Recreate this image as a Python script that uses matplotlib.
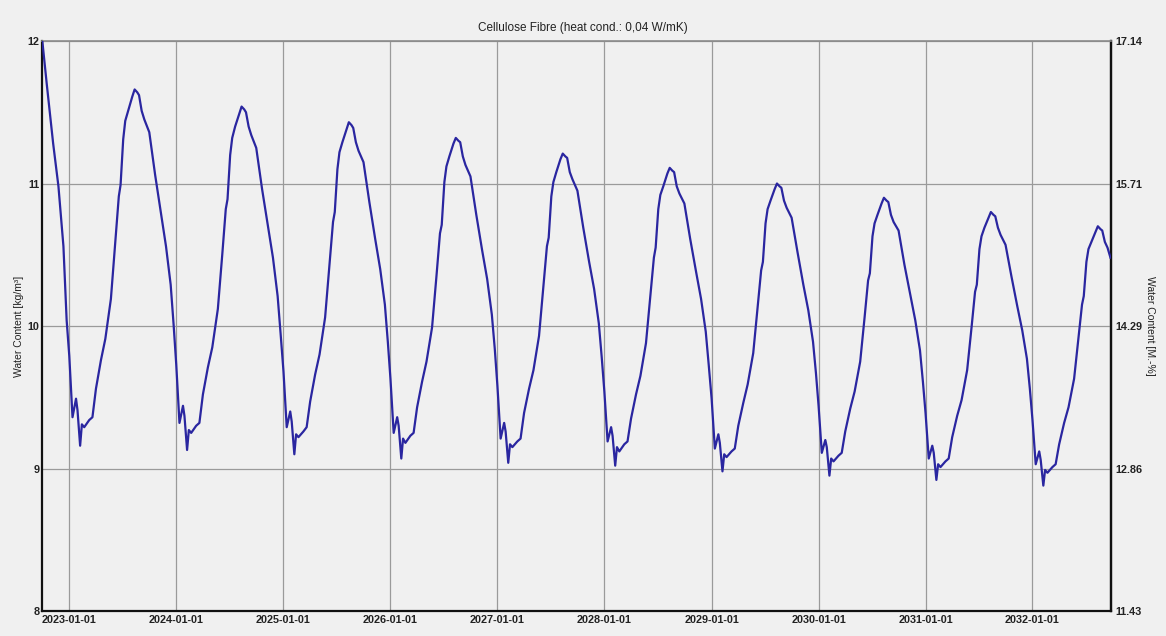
import numpy as np
import matplotlib.pyplot as plt
import matplotlib.dates as mdates
from matplotlib.ticker import FixedLocator, FormatStrFormatter

plt.rcParams['font.family'] = ['Liberation Sans', 'DejaVu Sans']

# ---------------------------------------------------------------------------
# Simulated water content of the cellulose fibre layer [kg/m3]
# ---------------------------------------------------------------------------

# run-in period: drying out of the initial moisture (autumn 2022)
START_DATES = ['2022-10-01', '2022-10-16', '2022-11-07', '2022-11-25',
               '2022-12-12', '2022-12-23']
START_VALUES = [12.00, 11.70, 11.28, 10.98, 10.56, 10.04]

# output days (days after 1 January) used for each year below
DAY_OFFSETS = [0, 11, 23, 28, 37, 43, 51, 68, 79, 91, 108, 123, 142, 157,
               169, 175, 184, 191, 201, 215, 223, 232, 238, 247, 256, 273,
               293, 313, 330, 346, 356]
DAY_OFFSETS_2032 = [0, 11, 23, 28, 37, 43, 51, 68, 79, 91, 108, 123, 142,
                    157, 169, 175, 184, 191, 201, 215, 223, 232, 238, 247,
                    256, 266]

YEARS = list(range(2023, 2033))

WC_2023 = [9.79, 9.36, 9.49, 9.41, 9.16, 9.31, 9.29, 9.34, 9.36, 9.56, 9.76,
           9.91, 10.19, 10.59, 10.91, 10.99, 11.31, 11.44, 11.51, 11.61,
           11.66, 11.64, 11.62, 11.51, 11.45, 11.36, 11.06, 10.79, 10.56,
           10.29, 10.01]
WC_2024 = [9.73, 9.32, 9.44, 9.37, 9.13, 9.27, 9.25, 9.30, 9.32, 9.52, 9.71,
           9.85, 10.12, 10.50, 10.82, 10.89, 11.20, 11.32, 11.40, 11.49,
           11.54, 11.52, 11.50, 11.40, 11.34, 11.25, 10.96, 10.70, 10.48,
           10.21, 9.95]
WC_2025 = [9.68, 9.29, 9.40, 9.33, 9.10, 9.24, 9.22, 9.26, 9.29, 9.47, 9.66,
           9.80, 10.06, 10.43, 10.73, 10.80, 11.10, 11.22, 11.29, 11.38,
           11.43, 11.41, 11.39, 11.29, 11.23, 11.15, 10.87, 10.61, 10.40,
           10.15, 9.89]
WC_2026 = [9.63, 9.25, 9.36, 9.30, 9.07, 9.21, 9.18, 9.23, 9.25, 9.43, 9.61,
           9.75, 9.99, 10.35, 10.65, 10.71, 11.01, 11.12, 11.19, 11.28,
           11.32, 11.30, 11.29, 11.19, 11.13, 11.05, 10.78, 10.53, 10.33,
           10.08, 9.84]
WC_2027 = [9.58, 9.21, 9.32, 9.26, 9.04, 9.17, 9.15, 9.19, 9.21, 9.39, 9.56,
           9.69, 9.93, 10.28, 10.56, 10.62, 10.91, 11.01, 11.08, 11.17,
           11.21, 11.19, 11.18, 11.08, 11.03, 10.95, 10.69, 10.45, 10.26,
           10.02, 9.78]
WC_2028 = [9.54, 9.19, 9.29, 9.23, 9.02, 9.15, 9.12, 9.17, 9.19, 9.35, 9.52,
           9.65, 9.88, 10.21, 10.48, 10.55, 10.82, 10.92, 10.98, 11.07,
           11.11, 11.09, 11.08, 10.98, 10.93, 10.86, 10.61, 10.38, 10.19,
           9.96, 9.73]
WC_2029 = [9.49, 9.14, 9.24, 9.18, 8.98, 9.10, 9.08, 9.12, 9.14, 9.30, 9.46,
           9.59, 9.81, 10.13, 10.39, 10.45, 10.72, 10.82, 10.88, 10.96,
           11.00, 10.98, 10.97, 10.88, 10.83, 10.76, 10.52, 10.29, 10.11,
           9.89, 9.67]
WC_2030 = [9.44, 9.11, 9.20, 9.15, 8.95, 9.07, 9.05, 9.09, 9.11, 9.26, 9.42,
           9.54, 9.75, 10.06, 10.32, 10.37, 10.63, 10.72, 10.78, 10.86,
           10.90, 10.88, 10.87, 10.78, 10.73, 10.67, 10.43, 10.22, 10.04,
           9.83, 9.61]
WC_2031 = [9.39, 9.07, 9.16, 9.11, 8.92, 9.03, 9.01, 9.05, 9.07, 9.22, 9.37,
           9.48, 9.69, 9.99, 10.24, 10.29, 10.54, 10.63, 10.69, 10.76,
           10.80, 10.78, 10.77, 10.69, 10.64, 10.57, 10.35, 10.14, 9.97,
           9.77, 9.56]
WC_2032 = [9.34, 9.03, 9.12, 9.06, 8.88, 8.99, 8.97, 9.01, 9.03, 9.17, 9.32,
           9.43, 9.63, 9.92, 10.15, 10.21, 10.45, 10.54, 10.59, 10.66,
           10.70, 10.68, 10.67, 10.59, 10.55, 10.48]

YEAR_VALUES = [WC_2023, WC_2024, WC_2025, WC_2026, WC_2027,
               WC_2028, WC_2029, WC_2030, WC_2031, WC_2032]

DENSITY = 70.0  # bulk density of the fibre [kg/m3], for mass-% axis

# ---------------------------------------------------------------------------
# Assemble the time series
# ---------------------------------------------------------------------------

dates = [np.datetime64(d) for d in START_DATES]
values = list(START_VALUES)
for year, vals in zip(YEARS, YEAR_VALUES):
    offsets = DAY_OFFSETS_2032 if year == 2032 else DAY_OFFSETS
    jan1 = np.datetime64(f"{year}-01-01")
    for off, v in zip(offsets, vals):
        dates.append(jan1 + np.timedelta64(off, 'D'))
        values.append(v)
dates = np.array(dates)
values = np.array(values)

# ---------------------------------------------------------------------------
# Plot
# ---------------------------------------------------------------------------

BG = '#f0f0f0'
fig = plt.figure(figsize=(11.66, 6.36), dpi=100, facecolor=BG)
ax = fig.add_axes([0.0363, 0.0393, 0.9163, 0.8962], facecolor=BG)

ax.plot(dates, values, color='#2a26a0', linewidth=1.6, zorder=3)

ax.set_xlim(np.datetime64('2022-10-01'), np.datetime64('2032-09-24'))
ax.set_ylim(8, 12)
ax.set_yticks([8, 9, 10, 11, 12])
ax.yaxis.set_major_formatter(FormatStrFormatter('%d'))

ax.xaxis.set_major_locator(mdates.YearLocator(1, month=1, day=1))
ax.xaxis.set_major_formatter(mdates.DateFormatter('%Y-%m-%d'))

ax.grid(True, color='#9a9a9a', linewidth=0.9, zorder=1)
ax.tick_params(axis='both', length=0, labelsize=7.8, colors='#222222')
ax.tick_params(axis='y', pad=2)
ax.tick_params(axis='x', pad=3)
for lbl in ax.get_xticklabels() + ax.get_yticklabels():
    lbl.set_fontweight('bold')

for side in ('left', 'bottom', 'right'):
    ax.spines[side].set_color('#111111')
    ax.spines[side].set_linewidth(1.6)
ax.spines['top'].set_color('#8a8a8a')
ax.spines['top'].set_linewidth(1.2)

ax.set_ylabel('Water Content [kg/m³]', fontsize=7.5, labelpad=3,
              color='#222222')

# mass-related water content on the right
sec = ax.secondary_yaxis('right', functions=(lambda w: w / DENSITY * 100.0,
                                             lambda m: m * DENSITY / 100.0))
sec.yaxis.set_major_locator(FixedLocator([c / DENSITY * 100.0
                                          for c in [8, 9, 10, 11, 12]]))
sec.yaxis.set_major_formatter(FormatStrFormatter('%.2f'))
sec.tick_params(length=0, labelsize=7.8, pad=3, colors='#222222')
sec.spines['right'].set_color('#111111')
sec.spines['right'].set_linewidth(1.6)
for lbl in sec.get_yticklabels():
    lbl.set_fontweight('bold')
sec.set_ylabel('Water Content [M.-%]', fontsize=7.5, rotation=-90,
               labelpad=9, color='#222222')

fig.suptitle('Cellulose Fibre (heat cond.: 0,04 W/mK)', fontsize=8.5,
             y=0.965, color='#222222')

fig.savefig('out.png', dpi=100, facecolor=BG)
